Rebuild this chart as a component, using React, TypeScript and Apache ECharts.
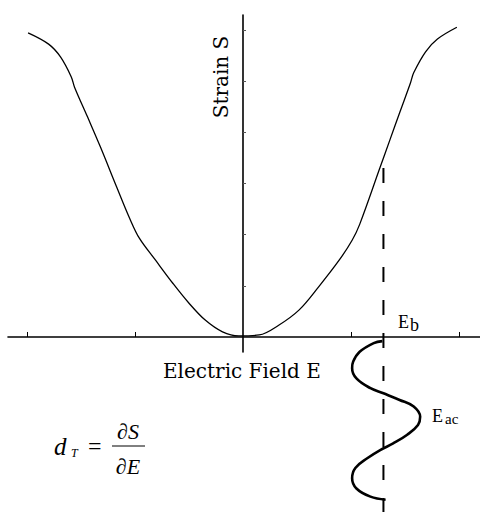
import React, { useEffect, useRef } from "react";
import * as echarts from "echarts";

// Strain–field curve (E in tick units, S in tick units)
const fieldE = [-1.99, -1.80, -1.69, -1.59, -1.56, -1.44, -1.32, -1.17, -1.05, -0.96, -0.81, -0.65, -0.50, -0.35, -0.19, -0.04, 0.15, 0.33, 0.52, 0.70, 0.89, 1.01, 1.08, 1.27, 1.36, 1.45, 1.55, 1.58, 1.69, 1.80, 1.98];
const strainS = [5.94, 5.72, 5.47, 5.08, 4.88, 4.30, 3.71, 2.93, 2.32, 1.93, 1.50, 1.05, 0.66, 0.33, 0.10, 0.02, 0.04, 0.23, 0.53, 0.98, 1.50, 1.89, 2.20, 3.32, 3.85, 4.38, 4.96, 5.16, 5.57, 5.82, 6.05];

// AC field wave (field value vs time, time grows downward)
const acField = [1.29, 1.21, 1.08, 1.02, 1.01, 1.05, 1.18, 1.30, 1.45, 1.58, 1.64, 1.62, 1.52, 1.39, 1.27, 1.15, 1.04, 1.01, 1.05, 1.18, 1.32];
const acTime = [0.08, 0.12, 0.29, 0.48, 0.61, 0.81, 1.00, 1.10, 1.23, 1.36, 1.56, 1.72, 1.91, 2.08, 2.21, 2.37, 2.56, 2.76, 2.96, 3.12, 3.18];

// Bias field
const biasE = 1.3;
const biasStrain = 3.3;
const timeEnd = 3.42;

// Tick positions
const xTicks = [-2, -1, 1, 2];
const yTicks = [1, 2, 3, 4, 5, 6];

const xMin = -2.176;
const xMax = 2.194;

export default function App() {
  const ref = useRef<HTMLDivElement>(null);
  useEffect(() => {
    if (!ref.current) return;
    const chart = echarts.init(ref.current, null, { renderer: "svg" });
    const serif = "Liberation Serif";
    const dserif = "DejaVu Serif";
    const txt = (x: number, y: number, text: string, family: string, size: number, extra: any = {}) => ({
      type: "text",
      x,
      y,
      ...(extra.rotation !== undefined ? { rotation: extra.rotation } : {}),
      style: {
        text,
        fontFamily: family,
        fontSize: size,
        fontStyle: extra.italic ? "italic" : "normal",
        fill: "#000",
        align: extra.align || "left",
        verticalAlign: "middle",
      },
    });
    chart.setOption({
      animation: false,
      backgroundColor: "#ffffff",
      grid: [
        { left: 8, right: 0, top: 15, bottom: 160 },
        { left: 8, right: 0, top: 337, bottom: 0 },
      ],
      xAxis: [
        {
          type: "value",
          gridIndex: 0,
          min: xMin,
          max: xMax,
          axisLine: { onZero: true, lineStyle: { color: "#000", width: 1.6 } },
          axisTick: { show: true, inside: true, length: 5, customValues: xTicks, lineStyle: { color: "#000", width: 1 } },
          axisLabel: { show: false },
          splitLine: { show: false },
        },
        { type: "value", gridIndex: 1, min: xMin, max: xMax, show: false },
      ],
      yAxis: [
        {
          type: "value",
          gridIndex: 0,
          min: -0.293,
          max: 6.289,
          axisLine: { show: true, onZero: true, lineStyle: { color: "#000", width: 1.6 } },
          axisTick: { show: true, inside: true, length: 3, customValues: yTicks, lineStyle: { color: "#555", width: 1 } },
          axisLabel: { show: false },
          splitLine: { show: false },
        },
        { type: "value", gridIndex: 1, min: 0, max: timeEnd, inverse: true, show: false },
      ],
      series: [
        {
          type: "line",
          xAxisIndex: 0,
          yAxisIndex: 0,
          data: fieldE.map((e, i) => [e, strainS[i]]),
          smooth: 0.35,
          showSymbol: false,
          lineStyle: { color: "#000", width: 1.3 },
        },
        {
          type: "line",
          xAxisIndex: 0,
          yAxisIndex: 0,
          data: [[biasE, biasStrain], [biasE, 0]],
          showSymbol: false,
          lineStyle: { color: "#000", width: 2, type: [15, 18] },
        },
        {
          type: "line",
          xAxisIndex: 1,
          yAxisIndex: 1,
          data: [[biasE, 0], [biasE, timeEnd]],
          showSymbol: false,
          lineStyle: { color: "#000", width: 2, type: [15, 18], dashOffset: 4 },
        },
        {
          type: "line",
          xAxisIndex: 1,
          yAxisIndex: 1,
          data: acField.map((e, i) => [e, acTime[i]]),
          smooth: 0.4,
          showSymbol: false,
          lineStyle: { color: "#000", width: 2.6 },
        },
      ],
      graphic: [
        txt(221, 77, "Strain S", dserif, 20, { rotation: Math.PI / 2, align: "center" }),
        txt(163, 371, "Electric Field E", dserif, 20),
        txt(398, 322, "E", serif, 18),
        txt(410, 325, "b", serif, 18),
        txt(432, 416, "E", serif, 18),
        txt(445, 419, "ac", serif, 15),
        txt(54, 446, "d", serif, 25, { italic: true }),
        txt(71, 453, "T", serif, 12, { italic: true }),
        txt(88, 446, "=", serif, 24),
        txt(128, 431, "\u2202S", serif, 22, { italic: true, align: "center" }),
        {
          type: "line",
          shape: { x1: 112, y1: 446, x2: 145, y2: 446 },
          style: { stroke: "#000", lineWidth: 1 },
        },
        txt(128, 466, "\u2202E", serif, 22, { italic: true, align: "center" }),
      ],
    });
    return () => chart.dispose();
  }, []);
  return <div ref={ref} style={{ position: "absolute", left: 0, top: 0, width: 480, height: 512 }} />;
}
